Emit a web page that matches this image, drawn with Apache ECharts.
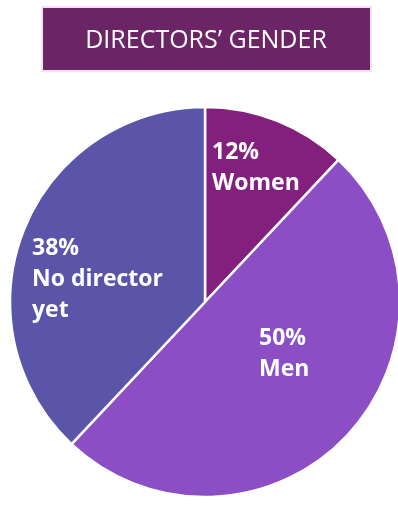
<!DOCTYPE html>
<html>
<head>
<meta charset="utf-8">
<script src="https://cdn.jsdelivr.net/npm/echarts@6/dist/echarts.min.js"></script>
<style>
html,body{margin:0;padding:0;background:#fff;}
#chart{width:398px;height:510px;}
</style>
</head>
<body>
<div id="chart"></div>
<script>
var titleText = "DIRECTORS\u2019 GENDER";
var categories = ["Women", "Men", "No director\nyet"];
var values = [12, 50, 38];
var colors = ["#83207E", "#8B4EC5", "#5A55A9"];
var labelPos = [[212, 137], [259, 323], [32, 233]];

var chart = echarts.init(document.getElementById('chart'), null, {renderer: 'canvas'});
chart.setOption({
  animation: false,
  graphic: [
    {type: 'rect', shape: {x: 41, y: 6, width: 331, height: 66}, style: {fill: '#F1E4F0'}},
    {type: 'rect', shape: {x: 43, y: 8, width: 327, height: 62}, style: {fill: '#6B2567'}},
    {type: 'text', x: 206, y: 41, style: {text: titleText, fill: '#ffffff', font: '25px "Open Sans"', textAlign: 'center', textVerticalAlign: 'middle'}}
  ],
  series: [{
    type: 'pie',
    center: [205, 302],
    radius: [0, 195],
    startAngle: 90,
    clockwise: true,
    data: categories.map(function (c, i) {
      return {name: c, value: values[i], itemStyle: {color: colors[i]}};
    }),
    itemStyle: {borderColor: '#ffffff', borderWidth: 2.5},
    label: {
      show: true,
      position: 'inside',
      formatter: function (p) { return p.value + '%\n' + p.name; },
      color: '#ffffff',
      fontFamily: 'Open Sans',
      fontWeight: 'bold',
      fontSize: 23,
      lineHeight: 31,
      align: 'left'
    },
    labelLayout: function (params) {
      var pos = labelPos[params.dataIndex];
      return {x: pos[0], y: pos[1], align: 'left', verticalAlign: 'top'};
    },
    emphasis: {disabled: true}
  }]
});
</script>
</body>
</html>
